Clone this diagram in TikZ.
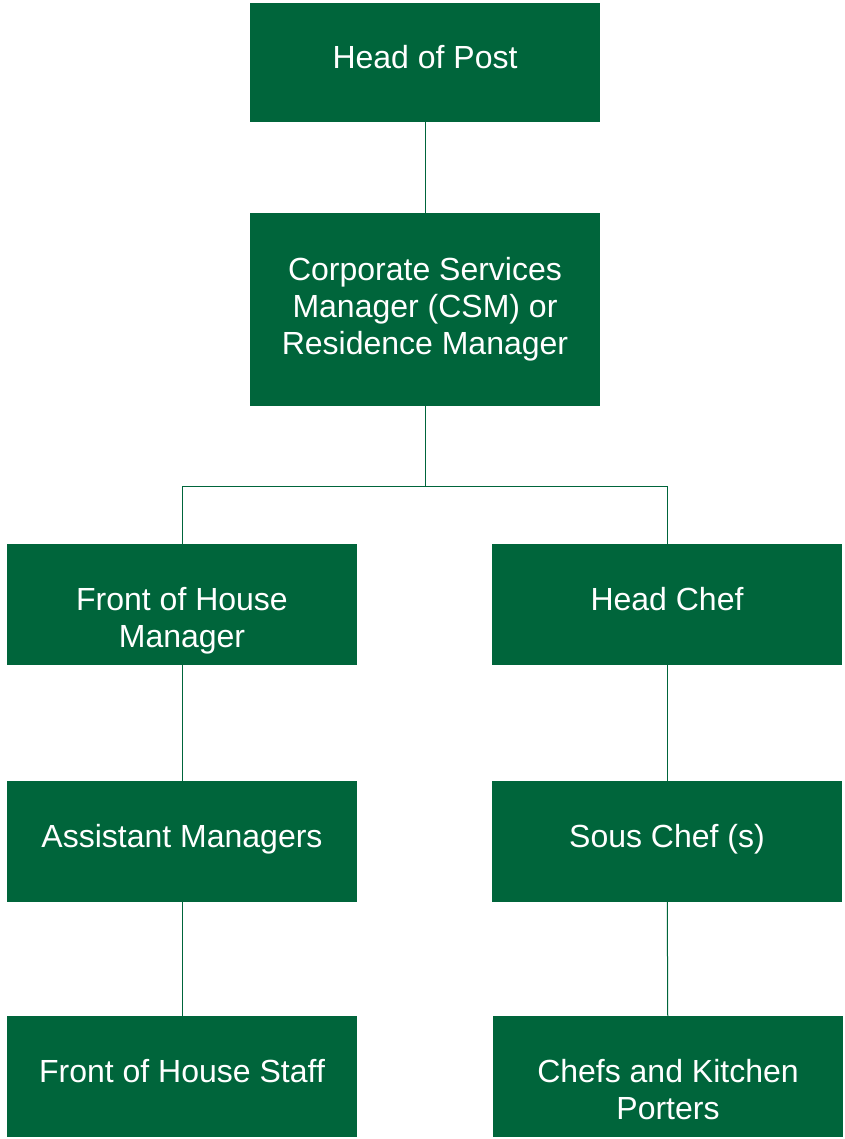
\documentclass[tikz,border=0pt]{standalone}
\usepackage{fontspec}
\setmainfont{Liberation Sans}
\usepackage{xcolor}
\usetikzlibrary{positioning,calc}

\definecolor{postgreen}{HTML}{00653B}

\begin{document}
\begin{tikzpicture}[
  x=1pt, y=-1pt,
  every node/.style={font=\fontsize{32}{37}\selectfont},
  role/.style={fill=postgreen, draw=none, text=white, minimum width=350pt, minimum height=121pt, align=center, inner sep=0pt, text height=12pt, text depth=0pt},
  tworole/.style={role, text height=86pt},
  link/.style={draw=postgreen, line width=1pt}
]
\useasboundingbox (0,0) rectangle (844,1139);

\node[role, minimum height=119pt] (hop) at (425,62.5) {Head of Post};
\node[role, minimum height=193pt, text height=, text depth=] (csm) at (425,309.5) {Corporate Services\\Manager (CSM) or\\Residence Manager};

\node[tworole] (foh) at (182,604.5) {Front of House\\Manager};
\node[role] (chef) at (667,604.5) {Head Chef};

\node[role] (am) at (182,841.5) {Assistant Managers};
\node[role] (sous) at (667,841.5) {Sous Chef (s)};

\node[role] (fohs) at (182,1076.5) {Front of House Staff};
\node[tworole] (ckp) at (668,1076.5) {Chefs and Kitchen\\Porters};

\coordinate (split) at (425,486);

\draw[link] (hop) -- (csm);
\draw[link] (csm) -- (split);
\draw[link] (split) -| (foh);
\draw[link] (split) -| (chef);
\draw[link] (foh) -- (am);
\draw[link] (am) -- (fohs);
\draw[link] (chef) -- (sous);
\draw[link] (sous) -- (ckp);
\end{tikzpicture}
\end{document}
